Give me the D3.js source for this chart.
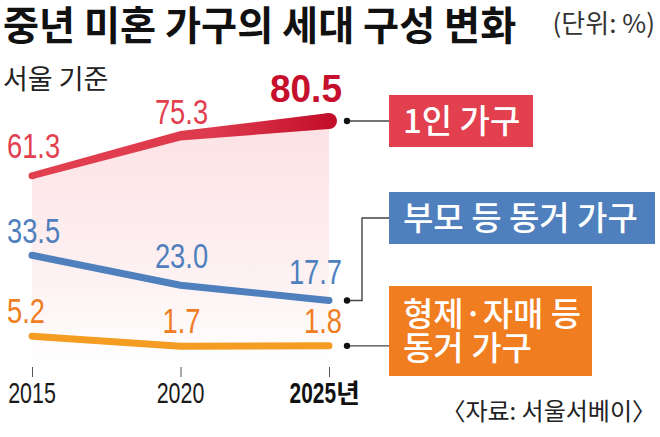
<!DOCTYPE html>
<html><head><meta charset="utf-8">
<script src="https://cdn.jsdelivr.net/npm/d3@7"></script>
<style>
html,body{margin:0;padding:0;background:#fff;}
svg{display:block;}
</style></head>
<body><svg id="c" width="660" height="437"></svg>
<script>
// ---- data ----
const years = [2015, 2020, 2025];
const yearLabels = ["2015", "2020", "2025"];
const yearUnit = "년";
const singleHousehold = [61.3, 75.3, 80.5];
const parentsHousehold = [33.5, 23.0, 17.7];
const siblingsHousehold = [5.2, 1.7, 1.8];
const seriesLabels = [["1인 가구"], ["부모 등 동거 가구"], ["형제·자매 등", "동거 가구"]];
const titleText = "중년 미혼 가구의 세대 구성 변화";
const unitText = "(단위: %)";
const subText = "서울 기준";
const sourceText = "〈자료: 서울서베이〉";

// ---- setup ----
const svg = d3.select("#c");
const KR = "'Noto Sans CJK KR','Noto Sans',sans-serif";
const NUM = "'Liberation Sans',Arial,sans-serif";
const x = d3.scaleLinear().domain([2015, 2025]).range([32, 329]);
const y = d3.scaleLinear().domain([0, 100]).range([351, 65.3]);

const defs = svg.append("defs");
const fillG = defs.append("linearGradient").attr("id", "fillG")
  .attr("gradientUnits", "userSpaceOnUse").attr("x1", 0).attr("x2", 0).attr("y1", 115).attr("y2", 368);
fillG.append("stop").attr("offset", 0).attr("stop-color", "#fde1e4");
fillG.append("stop").attr("offset", 0.6).attr("stop-color", "#fdf0f1");
fillG.append("stop").attr("offset", 1).attr("stop-color", "#ffffff");
const lineG = defs.append("linearGradient").attr("id", "lineG")
  .attr("gradientUnits", "userSpaceOnUse").attr("x1", 28).attr("x2", 338).attr("y1", 0).attr("y2", 0);
lineG.append("stop").attr("offset", 0).attr("stop-color", "#e2404f");
lineG.append("stop").attr("offset", 0.6).attr("stop-color", "#dd394c");
lineG.append("stop").attr("offset", 1).attr("stop-color", "#c10c28");

const single = years.map((yr, i) => ({yr, v: singleHousehold[i]}));
const parents = years.map((yr, i) => ({yr, v: parentsHousehold[i]}));
const siblings = years.map((yr, i) => ({yr, v: siblingsHousehold[i]}));

// condensed text helper (horizontal squeeze)
function cText(g, tx, ty, str, opts) {
  return g.append("text")
    .attr("transform", `translate(${tx},${ty}) scale(${opts.sx},1)`)
    .attr("text-anchor", opts.anchor || "start")
    .attr("font-family", opts.family || NUM)
    .attr("font-size", opts.size)
    .attr("font-weight", opts.weight || 400)
    .attr("fill", opts.fill)
    .text(str);
}

// fill area under red line
svg.append("path").datum(single)
  .attr("d", d3.area().x(d => x(d.yr)).y0(368).y1(d => y(d.v)))
  .attr("fill", "url(#fillG)");

// ticks
const ax = svg.append("g").attr("transform", "translate(0,367)")
  .call(d3.axisBottom(x).tickValues(years).tickSize(10).tickFormat(""));
ax.select(".domain").remove();
ax.selectAll(".tick line").attr("stroke", "#555").attr("stroke-width", 1);

// year labels
years.forEach((yr, i) => {
  if (i < 2) {
    cText(svg, x(yr), 403, yearLabels[i], {sx: 0.74, anchor: "middle", size: 29, fill: "#1a1a1a"});
  } else {
    cText(svg, x(yr) + 7, 403, yearLabels[i], {sx: 0.72, anchor: "end", size: 29, weight: 700, fill: "#111"});
    svg.append("text").attr("x", x(yr) + 7).attr("y", 403).attr("font-family", KR).attr("font-size", 26)
      .attr("font-weight", 700).attr("fill", "#111").text(yearUnit);
  }
});

// tapered red line
const wScale = d3.scaleLinear().domain([2015, 2020, 2025]).range([7, 9.5, 16]);
svg.append("path").datum(single)
  .attr("d", d3.area().x(d => x(d.yr)).y0(d => y(d.v) - wScale(d.yr) / 2).y1(d => y(d.v) + wScale(d.yr) / 2))
  .attr("fill", "url(#lineG)");
svg.append("circle").attr("cx", x(2015)).attr("cy", y(single[0].v)).attr("r", wScale(2015) / 2).attr("fill", "url(#lineG)");
svg.append("circle").attr("cx", x(2025)).attr("cy", y(single[2].v)).attr("r", wScale(2025) / 2).attr("fill", "url(#lineG)");

const line = d3.line().x(d => x(d.yr)).y(d => y(d.v));
svg.append("path").datum(parents).attr("d", line).attr("fill", "none")
  .attr("stroke", "#4f80bd").attr("stroke-width", 7).attr("stroke-linecap", "round").attr("stroke-linejoin", "round");
svg.append("path").datum(siblings).attr("d", line).attr("fill", "none")
  .attr("stroke", "#f49d22").attr("stroke-width", 7).attr("stroke-linecap", "round").attr("stroke-linejoin", "round");

// value labels
const labelDx = [-25, 1, 13];
const anchors = ["start", "middle", "end"];
function valueLabels(data, color, dys, bold) {
  const g = svg.append("g");
  data.forEach((d, i) => {
    const big = bold && i === 2;
    cText(g, x(d.yr) + labelDx[i], y(d.v) + dys[i], d.v.toFixed(1), {
      sx: big ? 0.95 : 0.78, anchor: anchors[i], size: big ? 39 : 35,
      weight: big ? 700 : 400, fill: big ? "#c60f2c" : color
    });
  });
}
valueLabels(single, "#e2404f", [-18, -12, -19], true);
valueLabels(parents, "#4f80bd", [-12, -17, -16], false);
valueLabels(siblings, "#ef7d22", [-13, -13, -13], false);

// legend boxes and connectors
const boxX = 389, dotX = 347;
const boxes = [
  {y: 95, w: 144, h: 52, color: "#e2404f", last: singleHousehold[2]},
  {y: 192, w: 266, h: 52, color: "#4f80bd", last: parentsHousehold[2]},
  {y: 286, w: 203, h: 90, color: "#f07d1f", last: siblingsHousehold[2]}
];
boxes.forEach((b, i) => {
  const py = y(b.last);
  const cy = b.y + b.h / 2;
  const pts = i === 1 ? [[dotX, py], [362, py], [362, cy], [boxX, cy]] : [[dotX, py], [boxX, py]];
  svg.append("path").attr("d", d3.line()(pts)).attr("fill", "none").attr("stroke", "#444").attr("stroke-width", 1.4);
  svg.append("circle").attr("cx", dotX).attr("cy", py).attr("r", 3.2).attr("fill", "#111");
  svg.append("rect").attr("x", boxX).attr("y", b.y).attr("width", b.w).attr("height", b.h).attr("fill", b.color);
  const lines = seriesLabels[i];
  const lh = 34;
  const t = svg.append("text").attr("font-family", KR).attr("font-size", 33).attr("font-weight", 500).attr("fill", "#fff");
  lines.forEach((s, j) => {
    t.append("tspan").attr("x", boxX + 14)
      .attr("y", cy + (j - (lines.length - 1) / 2) * lh + 11.5).text(s);
  });
});

// titles
svg.append("text").attr("transform", "translate(3,40) scale(0.98,1)").attr("font-family", KR).attr("font-size", 40).attr("font-weight", 700)
  .attr("fill", "#111").text(titleText);
svg.append("text").attr("x", 655).attr("y", 33).attr("text-anchor", "end").attr("font-family", KR).attr("font-size", 26)
  .attr("font-weight", 400).attr("fill", "#333").text(unitText);
svg.append("text").attr("x", 3).attr("y", 89).attr("font-family", KR).attr("font-size", 27)
  .attr("fill", "#222").text(subText);
svg.append("text").attr("x", 656).attr("y", 420).attr("text-anchor", "end").attr("font-family", KR).attr("font-size", 24)
  .attr("fill", "#222").text(sourceText);
</script></body></html>
